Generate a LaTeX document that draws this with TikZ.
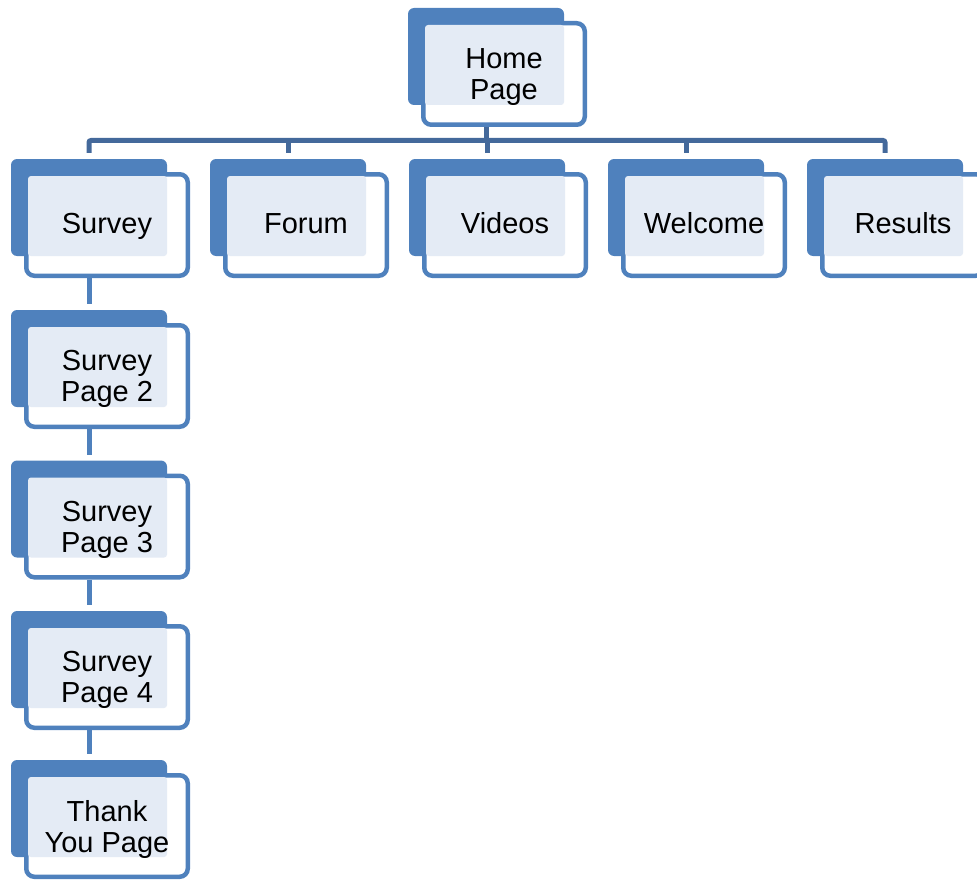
\documentclass[tikz,border=0pt]{standalone}
\usepackage{fontspec}
\setmainfont{Liberation Sans}
\definecolor{boxblue}{HTML}{4F81BD}
\definecolor{barblue}{HTML}{44699B}
\definecolor{patblue}{HTML}{E4EBF5}
\tikzset{
  backbox/.style={fill=boxblue, rounded corners=6pt},
  frontbox/.style={draw=boxblue, fill=white, line width=4.5pt, rounded corners=8pt,
    minimum width=161.5pt, minimum height=101.5pt, inner sep=0pt, outer sep=0pt},
  patfill/.style={fill=patblue, rounded corners=3pt},
  boxtext/.style={align=center, font=\fontsize{29}{31}\selectfont, text=black, inner sep=0pt},
  barline/.style={draw=barblue, line width=5pt, rounded corners=2pt},
  chainline/.style={draw=boxblue, line width=5pt},
}
% #1 name, #2 bx, #3 by, #4 text, #5 node options, #6 text offset
\newcommand\orgbase[6]{%
  \fill[backbox] (#2,#3) rectangle ++(156,97);
  \node[frontbox] (#1) at (#2+96,#3+66) {};
  \fill[patfill] (#2+17,#3+17) rectangle (#2+156,#3+97);
  \node[boxtext,#5] (#1-txt) at (#2+96,#3+66+#6) {#4};
  \coordinate (#1-t) at (#2+78,#3-6);
  \coordinate (#1-b) at (#2+78,#3+119);
}
\newcommand\orgone[4]{\orgbase{#1}{#2}{#3}{#4}{anchor=base}{8.5}}
\newcommand\orgtwo[4]{\orgbase{#1}{#2}{#3}{#4}{anchor=center}{3}}
\begin{document}
\begin{tikzpicture}[x=1pt,y=-1pt]
\useasboundingbox (0,0) rectangle (977,880);
\orgtwo{home}{408}{8}{Home\\Page}
\orgone{survey}{11}{159}{Survey}
\orgone{forum}{210}{159}{Forum}
\orgone{videos}{409}{159}{Videos}
\orgone{welcome}{608}{159}{Welcome}
\orgone{results}{807}{159}{Results}
\orgtwo{sp2}{11}{310}{Survey\\Page 2}
\orgtwo{sp3}{11}{460.5}{Survey\\Page 3}
\orgtwo{sp4}{11}{611}{Survey\\Page 4}
\orgtwo{thanks}{11}{760}{Thank\\You Page}
\coordinate (bar) at (0,140.5);
\draw[barline] (survey-t) -- (survey-t |- bar) -- (results-t |- bar) -- (results-t);
\draw[barline] (forum-t) -- (forum-t |- bar);
\draw[barline] (videos-t) -- (videos-t |- bar);
\draw[barline] (welcome-t) -- (welcome-t |- bar);
\draw[barline] (home-b) -- (home-b |- bar);
\draw[chainline] (survey-b) -- (sp2-t);
\draw[chainline] (sp2-b) -- (sp3-t);
\draw[chainline] (sp3-b) -- (sp4-t);
\draw[chainline] (sp4-b) -- (thanks-t);
\end{tikzpicture}
\end{document}
